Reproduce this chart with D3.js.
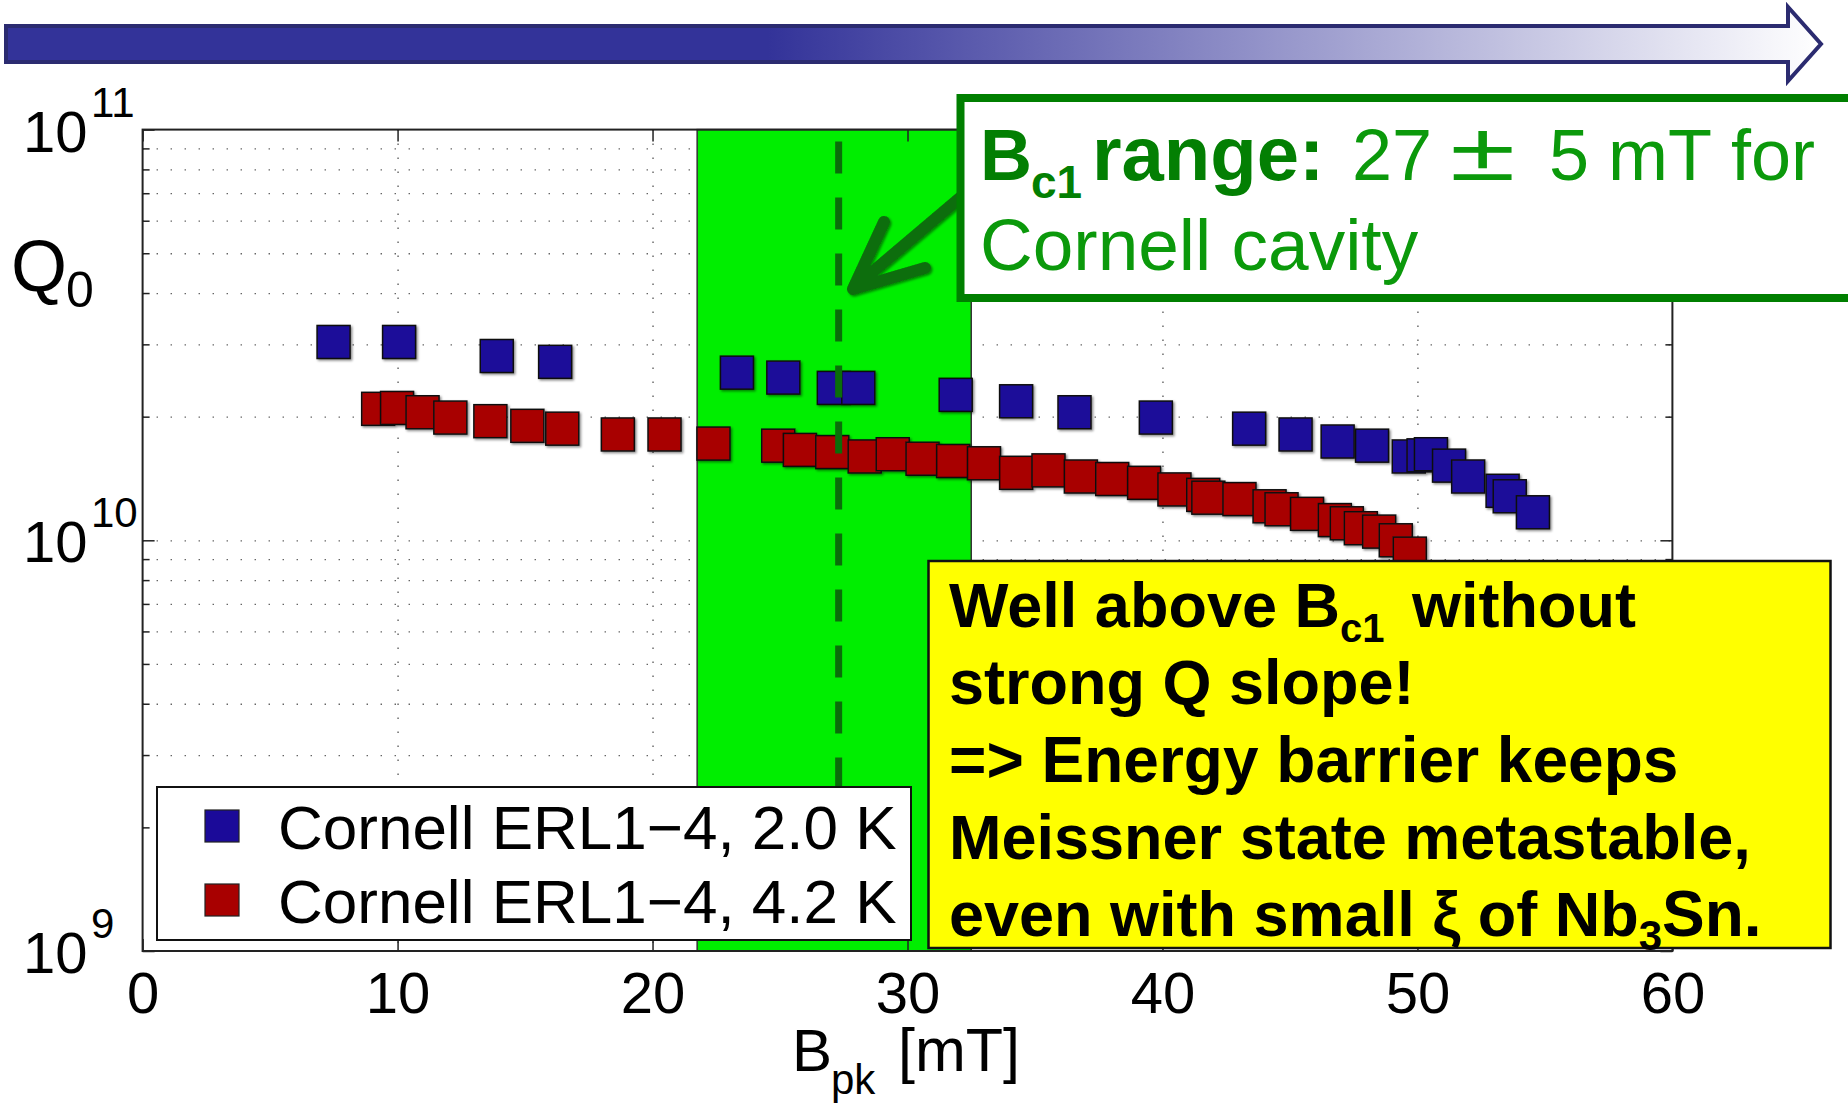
<!DOCTYPE html>
<html>
<head>
<meta charset="utf-8">
<script src="https://cdn.jsdelivr.net/npm/d3@7"></script>
<style>
html, body { margin: 0; padding: 0; background: #fff; }
svg { display: block; font-family: "Liberation Sans", Arial, Helvetica, sans-serif; }
</style>
</head>
<body>
<svg id="chart" width="1848" height="1107"></svg>
<script>
// --- Data ---
const blueB = [7.49, 10.06, 13.89, 16.18, 23.31, 25.13, 27.11, 28.07, 31.89, 34.26, 36.55, 39.74,
               43.4, 45.22, 46.87, 48.22, 49.66, 50.24, 50.53, 51.24, 51.99, 53.34, 53.62, 54.53];
const blueQ = [3.04e10, 3.04e10, 2.81e10, 2.72e10, 2.56e10, 2.49e10, 2.35e10, 2.35e10, 2.26e10, 2.18e10, 2.05e10, 1.99e10,
               1.87e10, 1.81e10, 1.74e10, 1.70e10, 1.60e10, 1.61e10, 1.62e10, 1.52e10, 1.43e10, 1.32e10, 1.28e10, 1.17e10];

const redB = [9.24, 9.98, 10.98, 12.07, 13.64, 15.09, 16.46, 18.64, 20.47, 22.39, 24.93, 25.78,
              27.05, 28.32, 29.42, 30.59, 31.79, 33.0, 34.26, 35.53, 36.8, 38.03, 39.28, 40.47,
              41.6, 41.8, 43.02, 44.2, 44.67, 45.67, 46.76, 47.23, 47.78, 48.5, 49.15, 49.7];
const redQ = [2.09e10, 2.10e10, 2.05e10, 1.99e10, 1.95e10, 1.90e10, 1.87e10, 1.81e10, 1.81e10, 1.72e10, 1.70e10, 1.66e10,
              1.64e10, 1.60e10, 1.62e10, 1.58e10, 1.56e10, 1.54e10, 1.46e10, 1.48e10, 1.43e10, 1.41e10, 1.38e10, 1.33e10,
              1.29e10, 1.27e10, 1.26e10, 1.21e10, 1.19e10, 1.16e10, 1.12e10, 1.10e10, 1.07e10, 1.05e10, 1.00e10, 9.28e9];

const seriesNames = ["Cornell ERL1\u22124, 2.0 K", "Cornell ERL1\u22124, 4.2 K"];
const seriesColors = ["#1b0a99", "#a80000"];

const xTicks = [0, 10, 20, 30, 40, 50, 60];
const yMajorTicks = [1e9, 1e10, 1e11];
const yTickExp = ["9", "10", "11"];
const yMinorTicks = [2e9, 3e9, 4e9, 5e9, 6e9, 7e9, 8e9, 9e9, 2e10, 3e10, 4e10, 5e10, 6e10, 7e10, 8e10, 9e10];

const bc1Range = [21.75, 32.5];
const bc1Line = 27.3;

const noteLines = ["Well above B", "strong Q slope!", "=> Energy barrier keeps", "Meissner state metastable,", "even with small \u03be of Nb"];

// --- Layout ---
const margin = { top: 129.6, right: 175.6, bottom: 156, left: 142.6 };
const W = 1848, H = 1107;
const x0 = margin.left, x1 = W - margin.right, y0 = margin.top, y1 = H - margin.bottom;

const svg = d3.select("#chart");
const defs = svg.append("defs");

const grad = defs.append("linearGradient").attr("id", "band")
    .attr("gradientUnits", "userSpaceOnUse").attr("x1", 6).attr("x2", 1821).attr("y1", 0).attr("y2", 0);
grad.append("stop").attr("offset", "0%").attr("stop-color", "#333399");
grad.append("stop").attr("offset", "42%").attr("stop-color", "#333399");
grad.append("stop").attr("offset", "100%").attr("stop-color", "#ffffff");

const shadow = defs.append("filter").attr("id", "shadow").attr("x", "-20%").attr("y", "-20%").attr("width", "150%").attr("height", "150%");
shadow.append("feDropShadow").attr("dx", 1.5).attr("dy", 1.5).attr("stdDeviation", 1).attr("flood-opacity", 0.45);

// --- Top banner arrow ---
svg.append("polygon")
    .attr("points", "6,26 1788,26 1788,7 1821,44 1788,81 1788,62 6,62")
    .attr("fill", "url(#band)")
    .attr("stroke", "#2b2b70")
    .attr("stroke-width", 4);

// --- Scales ---
const x = d3.scaleLinear().domain([0, 60]).range([x0, x1]);
const y = d3.scaleLog().domain([1e9, 1e11]).range([y1, y0]);

// Grid (dotted)
const gridStyle = g => {
    g.select(".domain").remove();
    g.selectAll("line").attr("stroke", "#555").attr("stroke-width", 1.3).attr("stroke-dasharray", "1.3,12.7");
};
svg.append("g").attr("transform", `translate(${x0},0)`)
    .call(d3.axisRight(y).tickValues(yMinorTicks.concat([1e10])).tickSize(x1 - x0).tickFormat(""))
    .call(gridStyle);
svg.append("g").attr("transform", `translate(0,${y0})`)
    .call(d3.axisBottom(x).tickValues(xTicks.slice(1, -1)).tickSize(y1 - y0).tickFormat(""))
    .call(gridStyle);

// Bc1 band
svg.append("rect")
    .attr("x", x(bc1Range[0])).attr("y", y0)
    .attr("width", x(bc1Range[1]) - x(bc1Range[0])).attr("height", y1 - y0)
    .attr("fill", "#00ee00").attr("stroke", "#333").attr("stroke-width", 1.5);

// Data markers
const ms = 33;
function drawSeries(bs, qs, color) {
    svg.append("g").attr("filter", "url(#shadow)")
        .selectAll("rect").data(bs.map((b, i) => ({ b, q: qs[i] }))).enter()
        .append("rect")
        .attr("x", d => x(d.b) - ms / 2).attr("y", d => y(d.q) - ms / 2)
        .attr("width", ms).attr("height", ms)
        .attr("fill", color).attr("stroke", "#111").attr("stroke-width", 1.5);
}
drawSeries(blueB, blueQ, seriesColors[0]);
drawSeries(redB, redQ, seriesColors[1]);

// Dashed Bc1 line (stops at the legend)
svg.append("line")
    .attr("x1", x(bc1Line)).attr("x2", x(bc1Line)).attr("y1", y0 + 12).attr("y2", 789)
    .attr("stroke", "#0a6e0a").attr("stroke-width", 7).attr("stroke-dasharray", "32,24");

// Axes ticks (inward)
const tickStyle = g => {
    g.select(".domain").remove();
    g.selectAll("line").attr("stroke", "#222").attr("stroke-width", 1.5);
};
svg.append("g").attr("transform", `translate(0,${y1})`)
    .call(d3.axisBottom(x).tickValues(xTicks).tickSize(-12).tickPadding(21).tickSizeOuter(0))
    .call(tickStyle)
    .call(g => g.selectAll("text").attr("font-size", 58).attr("fill", "#000")
        .attr("font-family", "Liberation Sans, Arial, sans-serif"));
svg.append("g").attr("transform", `translate(0,${y0})`)
    .call(d3.axisTop(x).tickValues(xTicks).tickSize(-12).tickFormat("")).call(tickStyle);
svg.append("g").attr("transform", `translate(${x0},0)`)
    .call(d3.axisLeft(y).tickValues(yMajorTicks).tickSize(-12).tickFormat("")).call(tickStyle);
svg.append("g").attr("transform", `translate(${x0},0)`)
    .call(d3.axisLeft(y).tickValues(yMinorTicks).tickSize(-7).tickFormat("")).call(tickStyle);
svg.append("g").attr("transform", `translate(${x1},0)`)
    .call(d3.axisRight(y).tickValues(yMajorTicks).tickSize(-12).tickFormat("")).call(tickStyle);
svg.append("g").attr("transform", `translate(${x1},0)`)
    .call(d3.axisRight(y).tickValues(yMinorTicks).tickSize(-7).tickFormat("")).call(tickStyle);

// Y tick labels 10^n
yMajorTicks.forEach((v, i) => {
    const t = svg.append("text").attr("fill", "#000");
    t.append("tspan").attr("x", 23).attr("y", y(v) + 22).attr("font-size", 58).text("10");
    t.append("tspan").attr("x", 91).attr("y", y(v) - 13).attr("font-size", 42).text(yTickExp[i]);
});

// Plot frame
svg.append("rect").attr("x", x0).attr("y", y0).attr("width", x1 - x0).attr("height", y1 - y0)
    .attr("fill", "none").attr("stroke", "#222").attr("stroke-width", 2);

// Axis titles
const yt = svg.append("text").attr("fill", "#000");
yt.append("tspan").attr("x", 11).attr("y", 291).attr("font-size", 72).text("Q");
yt.append("tspan").attr("x", 66).attr("y", 307).attr("font-size", 50).text("0");

const xt = svg.append("text").attr("fill", "#000");
xt.append("tspan").attr("x", 792).attr("y", 1071).attr("font-size", 60).text("B");
xt.append("tspan").attr("x", 831).attr("y", 1094).attr("font-size", 42).text("pk");
xt.append("tspan").attr("x", 898).attr("y", 1071).attr("font-size", 61).text("[mT]");

// Legend
const lg = svg.append("g");
lg.append("rect").attr("x", 157).attr("y", 787).attr("width", 754).attr("height", 153)
    .attr("fill", "#fff").attr("stroke", "#111").attr("stroke-width", 2);
seriesNames.forEach((name, i) => {
    const cy = 826 + i * 74;
    lg.append("rect").attr("x", 205).attr("y", cy - 16).attr("width", 34).attr("height", 32)
        .attr("fill", seriesColors[i]).attr("stroke", "#222").attr("stroke-width", 1.2);
    lg.append("text").attr("x", 278).attr("y", cy + 23).attr("font-size", 62).attr("fill", "#000").text(name);
});

// Arrow pointing at Bc1 line
svg.append("path")
    .attr("d", "M961,197 L856,286 M884,222 L853,289 L925,268")
    .attr("fill", "none").attr("stroke", "#0a6e0a").attr("stroke-width", 12)
    .attr("stroke-linecap", "round").attr("stroke-linejoin", "round")
    .attr("filter", "url(#shadow)");

// Green annotation box
svg.append("rect").attr("x", 960.5).attr("y", 98).attr("width", 920).attr("height", 200)
    .attr("fill", "#fff").attr("stroke", "#007f00").attr("stroke-width", 8);
const gb = svg.append("text").attr("font-weight", "bold").attr("fill", "#037f03");
gb.append("tspan").attr("x", 980).attr("y", 180).attr("font-size", 72).text("B");
gb.append("tspan").attr("x", 1031).attr("y", 198).attr("font-size", 46).text("c1");
gb.append("tspan").attr("x", 1092).attr("y", 180).attr("font-size", 76).text("range:");
const gr = svg.append("text").attr("fill", "#0b990b").attr("font-size", 72);
gr.append("tspan").attr("x", 1352).attr("y", 180).text("27");
gr.append("tspan").attr("x", 1549).attr("y", 180).text("5");
gr.append("tspan").attr("x", 1608).attr("y", 180).text("mT");
gr.append("tspan").attr("x", 1731).attr("y", 180).text("for");
svg.append("text").attr("transform", "translate(1450,180) scale(1.45,1)")
    .attr("fill", "#0b990b").attr("font-size", 82).text("\u00b1");
svg.append("text").attr("x", 980).attr("y", 270).attr("fill", "#0b990b").attr("font-size", 73).text("Cornell cavity");

// Yellow note box
svg.append("rect").attr("x", 928.5).attr("y", 561).attr("width", 902).attr("height", 387)
    .attr("fill", "#ffff00").attr("stroke", "#111").attr("stroke-width", 2.5);
const nt = svg.append("text").attr("font-weight", "bold").attr("fill", "#000").attr("font-size", 63);
noteLines.forEach((s, i) => {
    const by = 627 + i * 77.3;
    nt.append("tspan").attr("x", 949).attr("y", by).attr("font-size", i === 2 ? 64 : 63).text(s);
    if (i === 0) {
        nt.append("tspan").attr("y", by + 15).attr("font-size", 40).text("c1");
        nt.append("tspan").attr("x", 1412).attr("y", by).text("without");
    }
    if (i === 4) {
        nt.append("tspan").attr("y", by + 14).attr("font-size", 42).text("3");
        nt.append("tspan").attr("y", by).attr("font-size", 64).text("Sn.");
    }
});
</script>
</body>
</html>
